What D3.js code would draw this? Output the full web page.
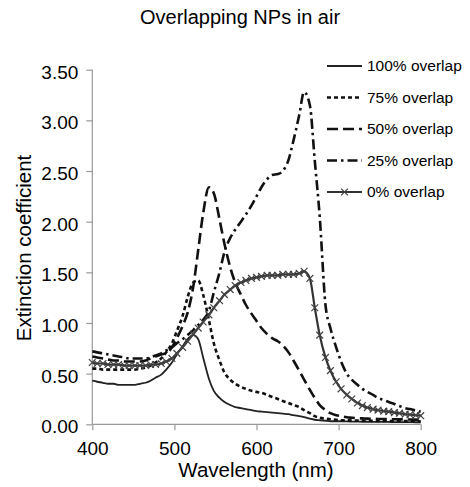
<!DOCTYPE html>
<html><head><meta charset="utf-8">
<script src="https://cdn.jsdelivr.net/npm/d3@7"></script>
<style>
html,body{margin:0;padding:0;background:#fff;}
text{font-family:"Liberation Sans",Arial,Helvetica,sans-serif;fill:#000;}
</style></head>
<body>
<svg id="chart" width="470" height="487"></svg>
<script>
const wavelengths = [400,406,413,419,426,432,439,445,452,458,465,471,477,484,490,497,503,510,516,523,529,535,542,548,555,561,568,574,581,587,594,600,606,613,619,626,632,639,645,652,658,665,671,677,684,690,697,703,710,716,723,729,735,742,748,755,761,768,774,781,787,794,800];

const overlap100 = [0.43,0.42,0.41,0.40,0.40,0.39,0.39,0.39,0.39,0.40,0.41,0.43,0.46,0.49,0.54,0.61,0.69,0.77,0.84,0.88,0.84,0.66,0.45,0.33,0.26,0.22,0.19,0.17,0.16,0.15,0.14,0.13,0.125,0.12,0.115,0.11,0.105,0.10,0.09,0.08,0.07,0.055,0.045,0.04,0.035,0.03,0.03,0.03,0.028,0.027,0.026,0.025,0.025,0.024,0.024,0.023,0.023,0.022,0.022,0.021,0.021,0.02,0.02];

const overlap75 = [0.55,0.55,0.54,0.54,0.54,0.54,0.54,0.54,0.54,0.55,0.56,0.58,0.61,0.65,0.71,0.80,0.92,1.07,1.25,1.40,1.42,1.28,1.03,0.80,0.63,0.51,0.44,0.40,0.37,0.35,0.33,0.32,0.31,0.29,0.27,0.25,0.23,0.21,0.19,0.17,0.14,0.11,0.08,0.065,0.055,0.05,0.045,0.04,0.04,0.038,0.037,0.036,0.035,0.034,0.034,0.033,0.033,0.032,0.032,0.031,0.031,0.03,0.03];

const overlap50 = [0.67,0.66,0.65,0.64,0.63,0.63,0.62,0.62,0.62,0.62,0.63,0.65,0.67,0.69,0.70,0.76,0.85,0.97,1.10,1.36,1.72,2.08,2.34,2.28,2.02,1.78,1.55,1.40,1.28,1.18,1.09,1.02,0.95,0.89,0.85,0.82,0.78,0.71,0.63,0.53,0.44,0.34,0.26,0.19,0.14,0.11,0.09,0.08,0.07,0.065,0.06,0.058,0.056,0.055,0.053,0.052,0.051,0.05,0.049,0.048,0.047,0.046,0.045];

const overlap25 = [0.72,0.71,0.70,0.69,0.68,0.67,0.66,0.65,0.65,0.65,0.65,0.66,0.68,0.70,0.73,0.76,0.80,0.84,0.88,0.93,0.98,1.03,1.12,1.30,1.50,1.70,1.84,1.92,2.00,2.07,2.16,2.25,2.34,2.42,2.46,2.47,2.50,2.61,2.80,3.05,3.28,3.15,2.60,2.05,1.18,0.95,0.76,0.62,0.50,0.44,0.39,0.35,0.32,0.29,0.26,0.24,0.22,0.20,0.18,0.16,0.15,0.135,0.125];

const overlap0 = [0.61,0.60,0.60,0.59,0.59,0.59,0.58,0.58,0.58,0.58,0.58,0.59,0.59,0.60,0.62,0.65,0.70,0.76,0.82,0.89,0.95,1.01,1.08,1.15,1.22,1.28,1.33,1.37,1.40,1.42,1.44,1.45,1.46,1.47,1.47,1.47,1.48,1.48,1.48,1.49,1.51,1.44,1.15,0.88,0.66,0.53,0.42,0.35,0.29,0.25,0.21,0.185,0.165,0.15,0.14,0.13,0.125,0.115,0.11,0.10,0.095,0.09,0.085];

const seriesNames = ["100% overlap","75% overlap","50% overlap","25% overlap","0% overlap"];
const seriesValues = [overlap100, overlap75, overlap50, overlap25, overlap0];
const xTicks = [400,500,600,700,800];
const yTicks = [0,0.5,1,1.5,2,2.5,3,3.5];
const titleText = "Overlapping NPs in air";
const xTitle = "Wavelength (nm)";
const yTitle = "Extinction coefficient";

const styles = [
  {dash:null, width:1.8, color:"#222"},
  {dash:"4,3", width:2.6, color:"#111"},
  {dash:"11,5", width:2.6, color:"#111"},
  {dash:"10,4,2.5,4", width:2.6, color:"#111"},
  {dash:null, width:2.2, color:"#333", marker:true}
];

const svg = d3.select("#chart");
const x = d3.scaleLinear().domain([400,800]).range([92.3,420.7]);
const y = d3.scaleLinear().domain([0,3.5]).range([424.3,69.7]);
const axisColor = "#999";

// title
svg.append("text").attr("x",240).attr("y",24).attr("text-anchor","middle")
  .style("font-size","20px").text(titleText);

// y axis
const yAxis = svg.append("g").attr("transform","translate(92.3,0)")
  .call(d3.axisLeft(y).tickValues(yTicks).tickFormat(d3.format(".2f")).tickSize(6).tickPadding(8));
yAxis.selectAll("line,path").attr("stroke",axisColor).attr("stroke-width",1.2);
yAxis.selectAll("text").style("font-size","19px").attr("dy","0.45em").style("fill","#000");

// x axis
const xAxis = svg.append("g").attr("transform","translate(0,424.3)")
  .call(d3.axisBottom(x).tickValues(xTicks).tickFormat(d3.format("d")).tickSize(6).tickPadding(8));
xAxis.selectAll("line,path").attr("stroke",axisColor).attr("stroke-width",1.2);
xAxis.selectAll("text").style("font-size","19px").attr("dy","0.9em").style("fill","#000");
xAxis.select(".domain").attr("d","M92.3,0H420.7");
yAxis.select(".domain").attr("d","M0,69.7V424.3");

// axis titles
svg.append("text").attr("x",256).attr("y",477).attr("text-anchor","middle")
  .style("font-size","20.5px").text(xTitle);
svg.append("text").attr("transform","translate(31,248) rotate(-90)").attr("text-anchor","middle")
  .style("font-size","20.5px").text(yTitle);

// lines
const line = d3.line().x((d,i)=>x(wavelengths[i])).y(d=>y(d)).curve(d3.curveMonotoneX);
const plot = svg.append("g");
seriesValues.forEach((vals,k)=>{
  const st = styles[k];
  plot.append("path").datum(vals).attr("d",line).attr("fill","none")
    .attr("stroke",st.color).attr("stroke-width",st.width)
    .attr("stroke-dasharray",st.dash).attr("stroke-linejoin","round");
  if(st.marker){
    const s = 3.4;
    plot.append("g").selectAll("path").data(vals).join("path")
      .attr("d",(d,i)=>{const cx=x(wavelengths[i]), cy=y(d);
        return `M${cx-s},${cy-s}L${cx+s},${cy+s}M${cx-s},${cy+s}L${cx+s},${cy-s}`;})
      .attr("stroke","#444").attr("stroke-width",1.2).attr("fill","none");
  }
});

// legend
const leg = svg.append("g");
seriesNames.forEach((name,k)=>{
  const st = styles[k];
  const ly = 66 + k*31.5;
  leg.append("line").attr("x1",327).attr("x2",362).attr("y1",ly).attr("y2",ly)
    .attr("stroke",st.color).attr("stroke-width",st.width).attr("stroke-dasharray",st.dash);
  if(st.marker){
    const cx=344.5, s=3.4;
    leg.append("path").attr("d",`M${cx-s},${ly-s}L${cx+s},${ly+s}M${cx-s},${ly+s}L${cx+s},${ly-s}`)
      .attr("stroke","#444").attr("stroke-width",1.2);
  }
  leg.append("text").attr("x",367).attr("y",ly).attr("dy","0.35em")
    .style("font-size","15.5px").text(name);
});
</script>
</body></html>
